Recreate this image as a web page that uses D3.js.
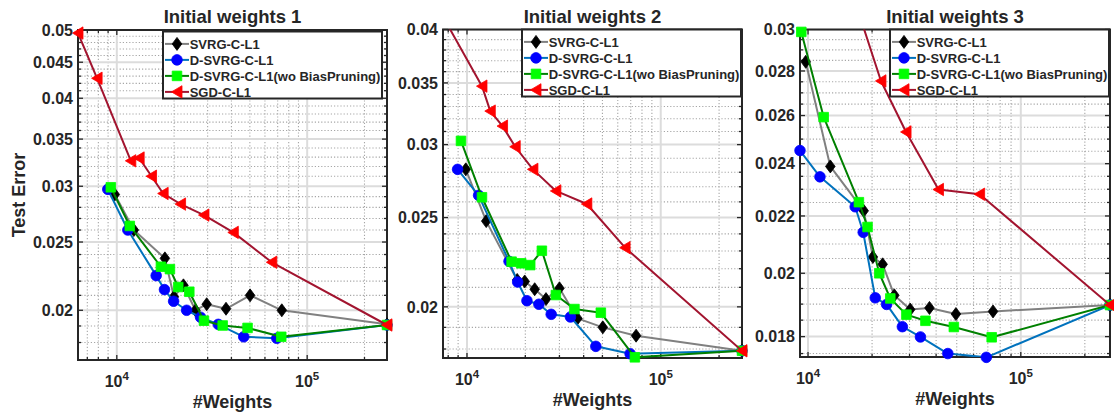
<!DOCTYPE html>
<html>
<head>
<meta charset="utf-8">
<script src="https://cdn.jsdelivr.net/npm/d3@7"></script>
<style>
  body { margin: 0; background: #fff; }
  svg text { font-family: "Liberation Sans", Arial, Helvetica, sans-serif; font-weight: bold; fill: #262626; }
</style>
</head>
<body>
<svg id="chart" width="1114" height="417"></svg>
<script>
// ---- data: [#weights, test error] ----
const seriesNames = ["SVRG-C-L1", "D-SVRG-C-L1", "D-SVRG-C-L1(wo BiasPruning)", "SGD-C-L1"];
const titles = ["Initial weights 1", "Initial weights 2", "Initial weights 3"];

const p1Svrg = [[9760, 0.0292], [12290, 0.0260], [17890, 0.0237], [19950, 0.0209], [22390, 0.0217], [25890, 0.0200], [29660, 0.0204], [37470, 0.0201], [50120, 0.0210], [73570, 0.0200], [262600, 0.0191]];
const p1Dsvrg = [[8965, 0.0297], [11430, 0.0260], [16100, 0.0224], [17800, 0.0214], [19880, 0.0206], [23270, 0.0200], [27540, 0.01955], [34120, 0.0191], [46420, 0.01834], [69240, 0.01825], [262600, 0.01906]];
const p1DsvrgWo = [[9300, 0.0299], [11700, 0.02635], [17050, 0.02306], [19010, 0.02288], [21030, 0.02158], [24030, 0.02125], [28700, 0.01933], [35980, 0.01903], [48620, 0.01888], [73070, 0.01834], [262600, 0.01906]];
const p1Sgd = [[6254, 0.0495], [7880, 0.0427], [11850, 0.0326], [13106, 0.0329], [15220, 0.0310], [17520, 0.0293], [21630, 0.0283], [28700, 0.0273], [40930, 0.0258], [65200, 0.0234], [262600, 0.01906]];

const p2Svrg = [[9858, 0.0282], [12570, 0.02478], [18160, 0.02139], [19860, 0.02131], [22360, 0.0209], [25570, 0.02039], [30010, 0.02095], [37160, 0.01943], [50230, 0.0190], [74600, 0.01861], [262600, 0.01792]];
const p2Dsvrg = [[8944, 0.0282], [11480, 0.02643], [16480, 0.02241], [18260, 0.02128], [20390, 0.02031], [23500, 0.02013], [27200, 0.01963], [34200, 0.0195], [46230, 0.01812], [69470, 0.01779], [262600, 0.01792]];
const p2DsvrgWo = [[9311, 0.03028], [11950, 0.0263], [16990, 0.02239], [19050, 0.0223], [21200, 0.0222], [24350, 0.02301], [28760, 0.0206], [35850, 0.01989], [49060, 0.01971], [73520, 0.01763], [262600, 0.01792]];
const p2Sgd = [[7520, 0.0413], [11950, 0.03472], [13190, 0.03262], [15260, 0.03142], [17740, 0.02984], [21890, 0.0282], [28760, 0.02672], [41550, 0.02586], [65460, 0.02319], [262600, 0.01792]];

const p3Svrg = [[9754, 0.02843], [12730, 0.02389], [18270, 0.02219], [20180, 0.02055], [22420, 0.0203], [25450, 0.01928], [30220, 0.01883], [37220, 0.01888], [49560, 0.01869], [74050, 0.01877], [262600, 0.01897]];
const p3Dsvrg = [[9168, 0.02453], [11380, 0.02348], [16660, 0.02234], [18170, 0.02141], [20700, 0.0192], [23410, 0.01899], [27760, 0.0183], [33760, 0.01799], [45400, 0.0175], [68870, 0.01739], [262600, 0.01897]];
const p3DsvrgWo = [[9298, 0.02988], [11850, 0.02593], [17340, 0.02251], [19040, 0.0216], [21620, 0.0200], [24360, 0.01918], [29000, 0.01867], [35630, 0.01848], [48460, 0.01829], [72980, 0.01798], [262600, 0.01897]];
const p3Sgd = [[15000, 0.0330], [22020, 0.02754], [28890, 0.0253], [41040, 0.02299], [64040, 0.02281], [262600, 0.01897]];

// axis limits and tick labels
const yLims = [[0.017, 0.05], [0.0176, 0.04], [0.0174, 0.03]];
const yTicks1 = [0.02, 0.025, 0.03, 0.035, 0.04, 0.045, 0.05];
const yTicks2 = [0.02, 0.025, 0.03, 0.035, 0.04];
const yTicks3 = [0.018, 0.02, 0.022, 0.024, 0.026, 0.028, 0.03];
const yMinorSteps = [0.001, 0.001, 0.0005];
const xTicks = [1e4, 1e5];

// ---- styles ----
const styles = [
    {line: "#808080", fill: "#000000", marker: "diamond"},
    {line: "#0072BD", fill: "#0000FF", marker: "circle"},
    {line: "#008000", fill: "#00FF00", marker: "square"},
    {line: "#A2142F", fill: "#FF0000", marker: "triangle"}
];
const markerPaths = {
    diamond: "M0,-6.5L4.8,0L0,6.5L-4.8,0Z",
    circle: d3.symbol(d3.symbolCircle, Math.PI * 5.3 * 5.3)(),
    square: "M-4.8,-4.8H4.8V4.8H-4.8Z",
    triangle: "M-5.5,0L5,-6.2L5,6.2Z"
};

const panels = [
    {title: titles[0], series: [p1Svrg, p1Dsvrg, p1DsvrgWo, p1Sgd], yLim: yLims[0], yTicks: yTicks1, yMinor: yMinorSteps[0],
        box: {l: 78, t: 30, r: 387, b: 360}, legendDx: -5, legendDy: 1.5, yLabel: true},
    {title: titles[1], series: [p2Svrg, p2Dsvrg, p2DsvrgWo, p2Sgd], yLim: yLims[1], yTicks: yTicks2, yMinor: yMinorSteps[1],
        box: {l: 443, t: 29.5, r: 742, b: 358}, legendDx: -1, legendDy: 0, yLabel: false},
    {title: titles[2], series: [p3Svrg, p3Dsvrg, p3DsvrgWo, p3Sgd], yLim: yLims[2], yTicks: yTicks3, yMinor: yMinorSteps[2],
        box: {l: 800, t: 29.5, r: 1110, b: 357}, legendDx: -1, legendDy: 0, yLabel: false}
];

const svg = d3.select('#chart');
svg.append("rect").attr("width", 1114).attr("height", 417).attr("fill", "#fff");

panels.forEach(function (p, pi) {
    const g = svg.append("g");
    const b = p.box;
    const allX = p.series.flat().map(d => d[0]);
    const x = d3.scaleLog().domain(d3.extent(allX)).range([b.l, b.r]);
    const y = d3.scaleLog().domain(p.yLim).range([b.b, b.t]);

    const clipId = "clip-" + pi;
    svg.append("defs").append("clipPath").attr("id", clipId)
        .append("rect").attr("x", b.l).attr("y", b.t).attr("width", b.r - b.l).attr("height", b.b - b.t);

    // minor ticks
    const [x0, x1] = x.domain();
    let xMinor = [];
    for (let d = 3; d <= 5; d++) {
        for (let k = 2; k <= 9; k++) {
            const v = k * Math.pow(10, d);
            if (v >= x0 && v <= x1) xMinor.push(v);
        }
    }
    const [ya, yb] = p.yLim;
    const yMinor = d3.range(Math.ceil(ya / p.yMinor - 1e-6), Math.floor(yb / p.yMinor + 1e-6) + 1)
        .map(i => +(i * p.yMinor).toFixed(6))
        .filter(v => !p.yTicks.some(t => Math.abs(t - v) < 1e-7));

    const grid = g.append("g").attr("clip-path", "url(#" + clipId + ")");
    grid.selectAll(".xmin").data(xMinor).enter().append("line")
        .attr("x1", d => x(d)).attr("x2", d => x(d)).attr("y1", b.t).attr("y2", b.b)
        .attr("stroke", "#a6a6a6").attr("stroke-width", 1.1).attr("stroke-dasharray", "1.2,2");
    grid.selectAll(".ymin").data(yMinor).enter().append("line")
        .attr("y1", d => y(d)).attr("y2", d => y(d)).attr("x1", b.l).attr("x2", b.r)
        .attr("stroke", "#a6a6a6").attr("stroke-width", 1.1).attr("stroke-dasharray", "1.2,2");
    grid.selectAll(".xmaj").data(xTicks).enter().append("line")
        .attr("x1", d => x(d)).attr("x2", d => x(d)).attr("y1", b.t).attr("y2", b.b)
        .attr("stroke", "#dcdcdc").attr("stroke-width", 2);
    grid.selectAll(".ymaj").data(p.yTicks).enter().append("line")
        .attr("y1", d => y(d)).attr("y2", d => y(d)).attr("x1", b.l).attr("x2", b.r)
        .attr("stroke", "#dcdcdc").attr("stroke-width", 2);

    // axis box and tick marks
    g.append("rect").attr("x", b.l).attr("y", b.t).attr("width", b.r - b.l).attr("height", b.b - b.t)
        .attr("fill", "none").attr("stroke", "#262626").attr("stroke-width", 2);
    const ticks = g.append("g").attr("stroke", "#262626").attr("stroke-width", 1.3);
    const xT = xTicks.map(v => [v, 5]).concat(xMinor.map(v => [v, 3]));
    xT.forEach(function (t) {
        const px = x(t[0]);
        ticks.append("line").attr("x1", px).attr("x2", px).attr("y1", b.b).attr("y2", b.b - t[1]);
        ticks.append("line").attr("x1", px).attr("x2", px).attr("y1", b.t).attr("y2", b.t + t[1]);
    });
    const yT = p.yTicks.map(v => [v, 5]).concat(yMinor.map(v => [v, 3]));
    yT.forEach(function (t) {
        const py = y(t[0]);
        ticks.append("line").attr("y1", py).attr("y2", py).attr("x1", b.l).attr("x2", b.l + t[1]);
        ticks.append("line").attr("y1", py).attr("y2", py).attr("x1", b.r).attr("x2", b.r - t[1]);
    });

    // tick labels
    g.selectAll(".ylab").data(p.yTicks).enter().append("text")
        .attr("x", b.l - 5).attr("y", d => y(d)).attr("dy", "0.36em")
        .attr("text-anchor", "end").style("font-size", "16px")
        .text(d => String(d));
    xTicks.forEach(function (v) {
        const t = g.append("text").attr("x", x(v)).attr("y", b.b + 27)
            .attr("text-anchor", "middle").style("font-size", "16px").text("10");
        t.append("tspan").attr("dy", -7).style("font-size", "11.5px").text(Math.round(Math.log10(v)));
    });

    // labels
    g.append("text").attr("x", (b.l + b.r) / 2).attr("y", b.t - 7)
        .attr("text-anchor", "middle").style("font-size", "18.5px").attr("fill", "#000").text(p.title);
    g.append("text").attr("x", (b.l + b.r) / 2).attr("y", b.b + 48)
        .attr("text-anchor", "middle").style("font-size", "18px").text("#Weights");
    if (p.yLabel) {
        g.append("text").attr("transform", "translate(25," + ((b.t + b.b) / 2) + ") rotate(-90)")
            .attr("text-anchor", "middle").style("font-size", "18px").text("Test Error");
    }

    // series
    const line = d3.line().x(d => x(d[0])).y(d => y(d[1]));
    p.series.forEach(function (data, si) {
        const st = styles[si];
        const sg = g.append("g");
        sg.append("path").datum(data).attr("d", line).attr("clip-path", "url(#" + clipId + ")")
            .attr("fill", "none").attr("stroke", st.line).attr("stroke-width", 2).attr("stroke-linejoin", "round");
        sg.selectAll("path.m").data(data.filter(d => d[1] <= p.yLim[1] * 1.001))
            .enter().append("path").attr("class", "m")
            .attr("transform", d => "translate(" + x(d[0]) + "," + y(d[1]) + ")")
            .attr("d", markerPaths[st.marker])
            .attr("fill", st.fill).attr("stroke", st.fill).attr("stroke-width", 0.8);
    });

    // legend
    const lw = 219, lh = 67;
    const lx = b.r + p.legendDx - lw, ly = b.t + p.legendDy;
    const leg = g.append("g");
    leg.append("rect").attr("x", lx).attr("y", ly).attr("width", lw).attr("height", lh)
        .attr("fill", "#fff").attr("stroke", "#262626").attr("stroke-width", 2);
    seriesNames.forEach(function (name, i) {
        const st = styles[i];
        const cy = ly + 12.4 + i * 16;
        leg.append("line").attr("x1", lx + 2).attr("x2", lx + 26).attr("y1", cy).attr("y2", cy)
            .attr("stroke", st.line).attr("stroke-width", 2);
        leg.append("path").attr("transform", "translate(" + (lx + 14) + "," + cy + ")")
            .attr("d", markerPaths[st.marker]).attr("fill", st.fill).attr("stroke", st.fill).attr("stroke-width", 0.8);
        leg.append("text").attr("x", lx + 26.7).attr("y", cy).attr("dy", "0.36em")
            .style("font-size", "13px").text(name);
    });
});
</script>
</body>
</html>
